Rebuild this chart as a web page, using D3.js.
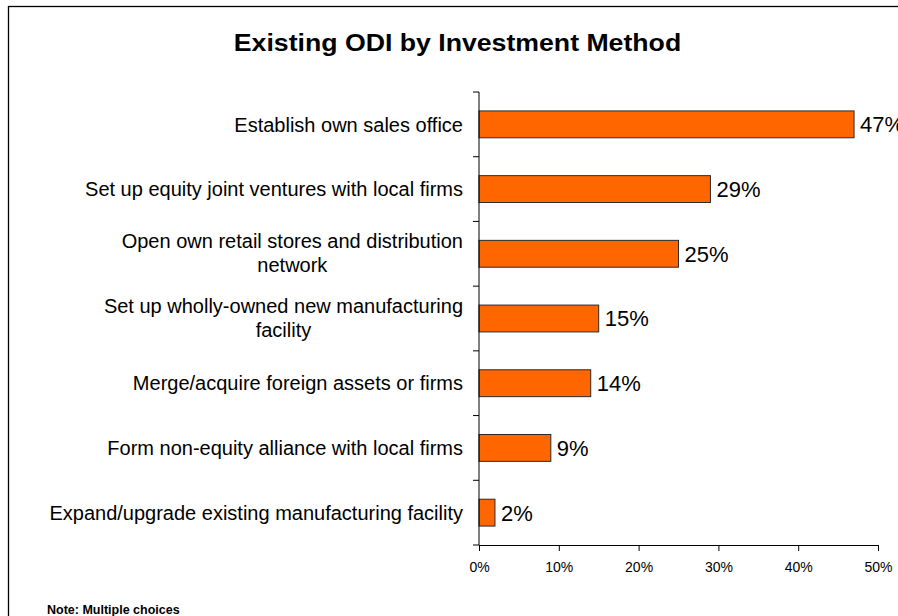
<!DOCTYPE html>
<html>
<head>
<meta charset="utf-8">
<script src="https://cdn.jsdelivr.net/npm/d3@7"></script>
<style>
  html, body { margin: 0; padding: 0; background: #fff; }
  svg { display: block; font-family: "Liberation Sans", Arial, sans-serif; }
</style>
</head>
<body>
<svg id="chart" width="898" height="616"></svg>
<script>
// Survey results: share of firms by investment method (multiple choices)
const categories = [
  "Establish own sales office",
  "Set up equity joint ventures with local firms",
  "Open own retail stores and distribution\nnetwork",
  "Set up wholly-owned new manufacturing\nfacility",
  "Merge/acquire foreign assets or firms",
  "Form non-equity alliance with local firms",
  "Expand/upgrade existing manufacturing facility"
];
const values = [47, 29, 25, 15, 14, 9, 2];
const xTicks = [0, 10, 20, 30, 40, 50];
const titleText = "Existing ODI by Investment Method";
const noteText = "Note: Multiple choices";

const svg = d3.select("#chart");

// outer frame
svg.append("rect")
  .attr("x", 8.5).attr("y", 6.5)
  .attr("width", 1000).attr("height", 1000)
  .attr("fill", "none").attr("stroke", "#000").attr("stroke-width", 1.3);

const plot = { left: 479, right: 878, top: 92, bottom: 545 };

const x = d3.scaleLinear().domain([0, 50]).range([plot.left, plot.right]);
const y = d3.scaleBand().domain(categories).range([plot.top, plot.bottom]).paddingInner(0.585).paddingOuter(0.2925);
const yBand = d3.scaleBand().domain(categories).range([plot.top, plot.bottom]);

// title, slightly widened
svg.append("text")
  .attr("transform", "translate(457.5,51) scale(1.16,1)")
  .attr("text-anchor", "middle")
  .attr("font-size", 23).attr("font-weight", "bold")
  .text(titleText);

// bars
svg.append("g").selectAll("rect")
  .data(values)
  .join("rect")
  .attr("x", x(0))
  .attr("y", (d, i) => y(categories[i]))
  .attr("width", d => x(d) - x(0))
  .attr("height", y.bandwidth())
  .attr("fill", "#FF6600")
  .attr("stroke", "#2a2a2a").attr("stroke-width", 1);

// value labels
svg.append("g").selectAll("text")
  .data(values)
  .join("text")
  .attr("x", d => x(d) + 6)
  .attr("y", (d, i) => yBand(categories[i]) + yBand.bandwidth() / 2)
  .attr("dy", "0.36em")
  .attr("font-size", 22)
  .attr("fill", "#000")
  .text(d => d + "%");

// x axis
const xAxis = svg.append("g")
  .attr("transform", `translate(0,${plot.bottom})`)
  .call(d3.axisBottom(x).tickValues(xTicks).tickFormat(d => d + "%").tickSize(6).tickSizeOuter(0));
xAxis.select(".domain").attr("stroke", "#000");
xAxis.selectAll(".tick line").attr("stroke", "#000");
xAxis.selectAll(".tick text")
  .attr("font-size", 14).attr("font-family", "Liberation Sans, Arial, sans-serif")
  .attr("fill", "#000").attr("y", 17);

// y axis: line with ticks at category boundaries
const bounds = categories.map(c => yBand(c)).concat([plot.bottom]);
svg.append("line")
  .attr("x1", plot.left).attr("x2", plot.left)
  .attr("y1", plot.top).attr("y2", plot.bottom)
  .attr("stroke", "#000");
svg.append("g").selectAll("line")
  .data(bounds)
  .join("line")
  .attr("x1", plot.left - 6).attr("x2", plot.left)
  .attr("y1", d => d).attr("y2", d => d)
  .attr("stroke", "#000");

// category labels (wrapped lines centred on the widest line, block right-aligned)
const labelRight = 463;
const lineH = 24;
const lab = svg.append("g").attr("font-size", 20).attr("fill", "#000");
categories.forEach((c, i) => {
  const lines = c.split("\n");
  const cy = yBand(c) + yBand.bandwidth() / 2;
  const t = lab.append("text").attr("text-anchor", "middle");
  lines.forEach((ln, j) => {
    t.append("tspan")
      .attr("y", cy + (j - (lines.length - 1) / 2) * lineH - (lines.length > 1 ? 1 : 0))
      .attr("dy", "0.36em")
      .text(ln);
  });
  const w = d3.max(t.selectAll("tspan").nodes(), n => n.getComputedTextLength());
  t.selectAll("tspan").attr("x", labelRight - w / 2);
});

// footnote
svg.append("text")
  .attr("x", 47).attr("y", 614)
  .attr("font-size", 12.5).attr("font-weight", "bold")
  .text(noteText);
</script>
</body>
</html>
